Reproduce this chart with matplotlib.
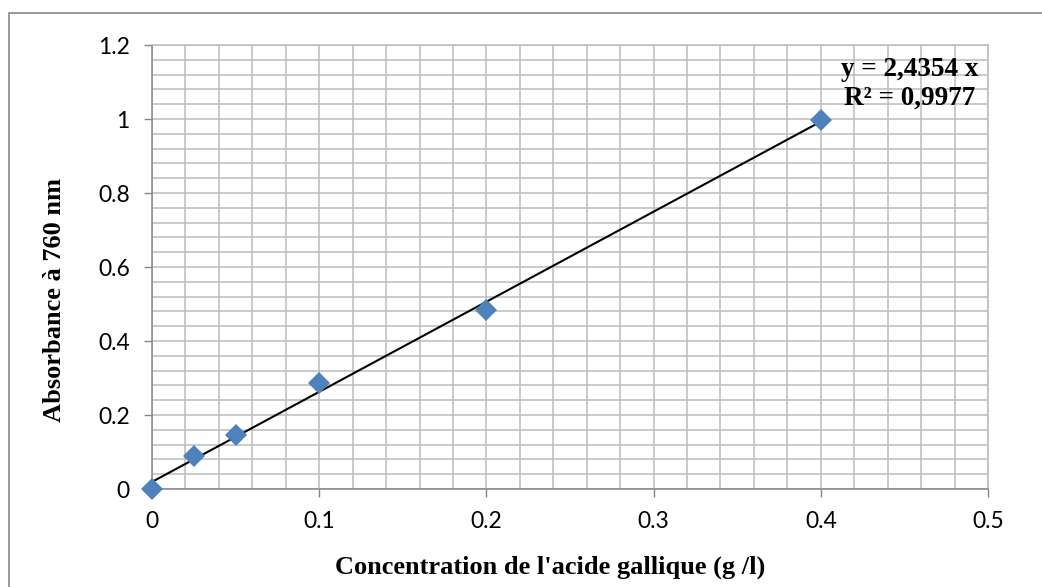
import numpy as np
import matplotlib
matplotlib.use("Agg")
import matplotlib.pyplot as plt
from matplotlib.patches import Rectangle
from matplotlib.ticker import MultipleLocator

# Gallic acid calibration standards
concentration = [0.0, 0.025, 0.05, 0.1, 0.2, 0.4]        # g/l
absorbance = [0.0, 0.089, 0.146, 0.286, 0.484, 0.997]    # A at 760 nm

x_ticks = [0, 0.1, 0.2, 0.3, 0.4, 0.5]
x_tick_labels = ["0", "0.1", "0.2", "0.3", "0.4", "0.5"]
y_ticks = [0, 0.2, 0.4, 0.6, 0.8, 1.0, 1.2]
y_tick_labels = ["0", "0.2", "0.4", "0.6", "0.8", "1", "1.2"]

equation_text = "y = 2,4354 x\nR² = 0,9977"
x_title = "Concentration de l'acide gallique (g /l)"
y_title = "Absorbance à 760 nm"

W, H = 1042, 587
fig = plt.figure(figsize=(W / 100, H / 100), dpi=100)
ax = fig.add_axes([152 / W, 1 - 489 / H, (988 - 152) / W, (489 - 45) / H])

grid_col = "#bcbcbc"
axis_col = "#868686"

ax.set_xlim(0, 0.5)
ax.set_ylim(0, 1.2)
ax.set_xticks(x_ticks)
ax.set_xticklabels(x_tick_labels)
ax.set_yticks(y_ticks)
ax.set_yticklabels(y_tick_labels)
ax.xaxis.set_minor_locator(MultipleLocator(0.02))
ax.yaxis.set_minor_locator(MultipleLocator(0.04))

ax.grid(which="both", color=grid_col, linewidth=1.1)
ax.set_axisbelow(True)
ax.tick_params(which="major", direction="out", length=6, width=1.0,
               color=axis_col, labelsize=16.5, pad=10)
ax.tick_params(which="minor", length=0)
for lbl in ax.get_xticklabels() + ax.get_yticklabels():
    lbl.set_family("Lato")

for side in ("left", "bottom"):
    ax.spines[side].set_color(axis_col)
    ax.spines[side].set_linewidth(1.1)
for side in ("right", "top"):
    ax.spines[side].set_color(grid_col)
    ax.spines[side].set_linewidth(1.1)

# least-squares trend line over the range of the standards
slope, intercept = np.polyfit(concentration, absorbance, 1)
xs = np.array([min(concentration), max(concentration)])
ax.plot(xs, slope * xs + intercept, color="black", linewidth=1.5, zorder=3)

ax.plot(concentration, absorbance, linestyle="none", marker="D",
        markersize=11.5, color="#4f81bd", markeredgewidth=0, zorder=4,
        clip_on=False)

fig.text(910 / W, 1 - 84 / H, equation_text, ha="center", va="center",
         family="Liberation Serif", weight="bold", fontsize=19.5,
         linespacing=1.22)

fig.text(550 / W, 1 - 567 / H, x_title, ha="center", va="center",
         family="Liberation Serif", weight="bold", fontsize=19)
fig.text(55 / W, 1 - 300 / H, y_title, ha="center", va="center",
         rotation=90, family="Liberation Serif", weight="bold", fontsize=19)

# chart frame
fig.patches.append(Rectangle((9 / W, -0.1), 1.2, 1 - 13 / H + 0.1,
                             transform=fig.transFigure, fill=False,
                             edgecolor=axis_col, linewidth=1.2))

fig.savefig("out.png", dpi=100)
